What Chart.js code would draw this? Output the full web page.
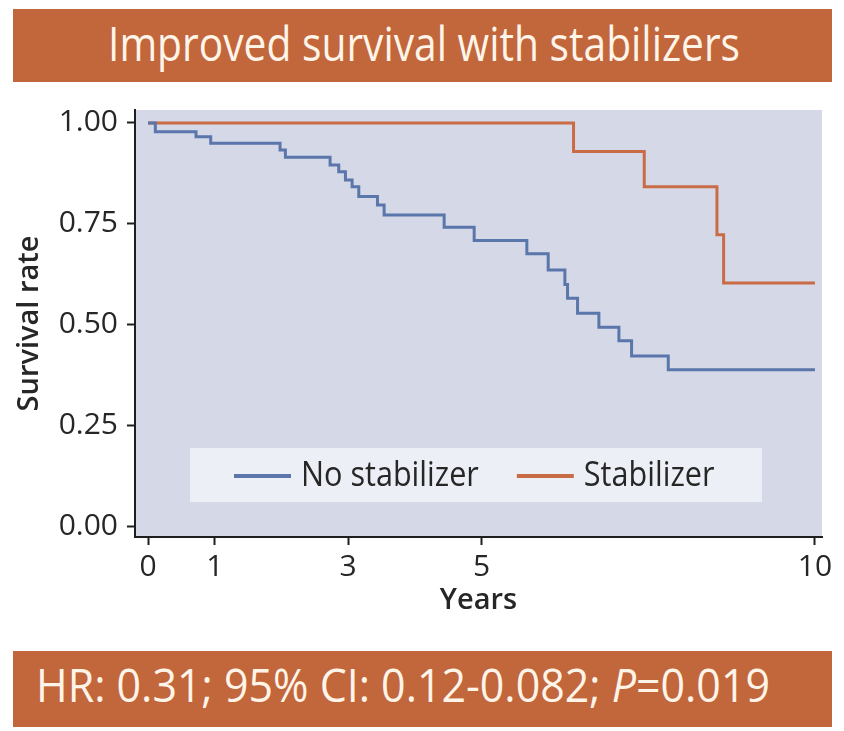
<!DOCTYPE html>
<html>
<head>
<meta charset="utf-8">
<script src="https://cdn.jsdelivr.net/npm/chart.js@4.4.1/dist/chart.umd.min.js"></script>
<style>
  html, body { margin: 0; padding: 0; background: #ffffff; }
  #wrap { position: relative; width: 844px; height: 731px; overflow: hidden; background: #ffffff; }
  #chart { position: absolute; left: 0; top: 0; }
  .banner {
    position: absolute; left: 13px; width: 819px;
    background: #C2663C; color: #FFF4E8;
    font-family: 'Open Sans', 'DejaVu Sans', sans-serif;
    white-space: nowrap;
  }
  .banner span { position: absolute; display: inline-block; transform-origin: left center; }
  #headline { top: 9px; height: 73px; }
  #headline span { left: 95px; top: 11px; font-size: 47px; line-height: 47px; }
  #stats { top: 651px; height: 76px; }
  #stats span { left: 23px; top: 10px; font-size: 46px; line-height: 46px; }
</style>
</head>
<body>
<div id="wrap">
  <canvas id="chart" width="844" height="731"></canvas>
  <div class="banner" id="headline"><span>Improved survival with stabilizers</span></div>
  <div class="banner" id="stats"><span>HR: 0.31; 95% CI: 0.12-0.082; <i>P</i>=0.019</span></div>
</div>
<script>
// Kaplan-Meier estimates: time in years, survival probability after each event
const noStabYears    = [0, 0.11, 0.72, 0.94, 1.98, 2.06, 2.73, 2.86, 2.96, 3.06, 3.16, 3.44, 3.54, 4.44, 4.89, 5.68, 6.00, 6.25, 6.29, 6.44, 6.76, 7.06, 7.25, 7.80, 10];
const noStabSurvival = [1, 0.978, 0.966, 0.950, 0.933, 0.915, 0.896, 0.879, 0.859, 0.842, 0.818, 0.797, 0.772, 0.742, 0.709, 0.676, 0.636, 0.600, 0.566, 0.529, 0.494, 0.461, 0.423, 0.389, 0.389];
const stabYears      = [0, 6.38, 7.44, 8.53, 8.63, 10];
const stabSurvival   = [1, 0.929, 0.842, 0.723, 0.604, 0.604];

const seriesLabels = ['No stabilizer', 'Stabilizer'];
const xTickValues  = [0, 1, 3, 5, 10];
const yTickValues  = [0, 0.25, 0.5, 0.75, 1];

const FAMILY = "'Open Sans', 'DejaVu Sans', sans-serif";
const INK = '#262626';
const AXIS = '#1f1f1f';
const BLUE = '#5A76AB';
const ORANGE = '#C96B45';

const toPoints = (xs, ys) => xs.map((x, i) => ({ x: x, y: ys[i] }));

// squeeze banner text to the banner layout widths
function fitSpan(sel, width) {
  const span = document.querySelector(sel);
  const w = span.getBoundingClientRect().width;
  span.style.transform = 'scaleX(' + (width / w) + ')';
}
fitSpan('#headline span', 632);
fitSpan('#stats span', 734);

// shaded plotting panel
const panelBackground = {
  id: 'panelBackground',
  beforeDraw(chart) {
    const { ctx, chartArea: a } = chart;
    ctx.save();
    ctx.fillStyle = '#D5D8E6';
    ctx.fillRect(a.left, a.top, a.right - a.left, a.bottom - a.top);
    ctx.restore();
  }
};

// legend drawn as a box inside the lower part of the panel
const insetLegend = {
  id: 'insetLegend',
  afterDatasetsDraw(chart) {
    const { ctx, chartArea: a } = chart;
    const box = { x: a.left + 55, y: a.top + 338, w: 572, h: 54 };
    ctx.save();
    ctx.fillStyle = '#EDEFF6';
    ctx.fillRect(box.x, box.y, box.w, box.h);
    const cy = box.y + box.h / 2 + 1;
    const squeeze = 0.9;
    ctx.font = '34px ' + FAMILY;
    ctx.textBaseline = 'middle';
    ctx.textAlign = 'left';
    let x = box.x + 44;
    chart.data.datasets.forEach(ds => {
      ctx.strokeStyle = ds.borderColor;
      ctx.lineWidth = 4;
      ctx.beginPath();
      ctx.moveTo(x, cy);
      ctx.lineTo(x + 57, cy);
      ctx.stroke();
      x += 57 + 10;
      ctx.fillStyle = INK;
      ctx.save();
      ctx.translate(x, cy);
      ctx.scale(squeeze, 1);
      ctx.fillText(ds.label, 0, 0);
      ctx.restore();
      x += ctx.measureText(ds.label).width * squeeze + 38;
    });
    ctx.restore();
  }
};

new Chart(document.getElementById('chart'), {
  type: 'line',
  data: {
    datasets: [
      { label: seriesLabels[0], data: toPoints(noStabYears, noStabSurvival), borderColor: BLUE, borderWidth: 3, stepped: 'before', pointRadius: 0, fill: false },
      { label: seriesLabels[1], data: toPoints(stabYears, stabSurvival), borderColor: ORANGE, borderWidth: 3, stepped: 'before', pointRadius: 0, fill: false }
    ]
  },
  options: {
    responsive: false,
    animation: false,
    devicePixelRatio: 1,
    layout: { padding: { top: 110, right: 22, bottom: 110, left: 0 } },
    plugins: { legend: { display: false }, tooltip: { enabled: false } },
    scales: {
      x: {
        type: 'linear', min: -0.195, max: 10.105,
        afterBuildTicks: s => { s.ticks = xTickValues.map(v => ({ value: v })); },
        afterFit: s => { s.height = 84; s.paddingLeft = 0; s.paddingRight = 0; },
        ticks: { font: { family: FAMILY, size: 30 }, color: INK, padding: 4, maxRotation: 0, autoSkip: false },
        grid: { drawOnChartArea: false, tickLength: 8, tickWidth: 2, tickColor: AXIS },
        border: { color: AXIS, width: 2 },
        title: { display: true, text: 'Years', color: INK, font: { family: FAMILY, size: 29, weight: '600' }, padding: { top: 0, bottom: 3 } }
      },
      y: {
        type: 'linear', min: -0.025, max: 1.032,
        afterBuildTicks: s => { s.ticks = yTickValues.map(v => ({ value: v })); },
        afterFit: s => { s.width = 135; s.paddingTop = 0; s.paddingBottom = 0; },
        ticks: { font: { family: FAMILY, size: 30 }, color: INK, padding: 9, callback: v => Number(v).toFixed(2) },
        grid: { drawOnChartArea: false, tickLength: 8, tickWidth: 2, tickColor: AXIS },
        border: { color: AXIS, width: 2 },
        title: { display: true, text: 'Survival rate', color: INK, font: { family: FAMILY, size: 29, weight: '600' }, padding: { top: 12, bottom: 0 } }
      }
    }
  },
  plugins: [panelBackground, insetLegend]
});
</script>
</body>
</html>
